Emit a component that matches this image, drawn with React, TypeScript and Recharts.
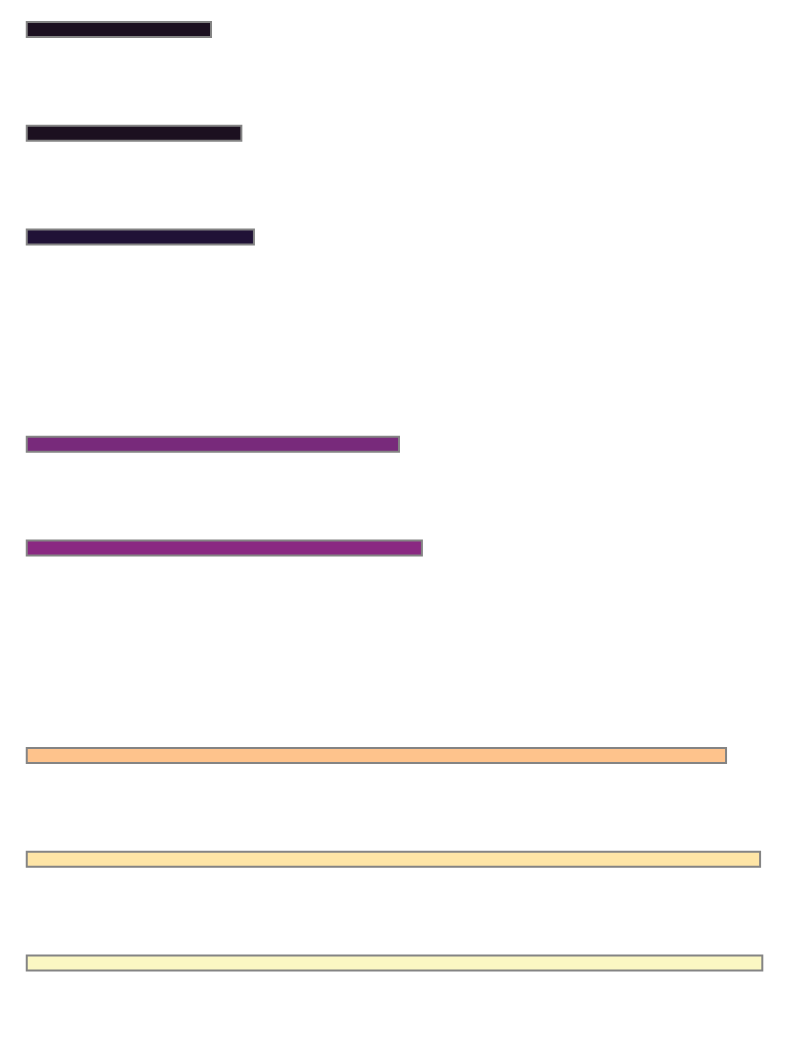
import { BarChart, Bar, XAxis, YAxis, Cell } from "recharts";

const categories = ["c1", "c2", "c3", "c4", "c5", "c6", "c7", "c8", "c9", "c10"];
const values: (number | null)[] = [0.249, 0.29, 0.307, null, 0.503, 0.534, null, 0.945, 0.991, 0.994];
const colors = [
  "#1c1020",
  "#1c1020",
  "#201236",
  "#ffffff",
  "#782a7b",
  "#8a2982",
  "#ffffff",
  "#fec38c",
  "#fee5a6",
  "#fbf7c3",
];

const data = categories.map((name, i) => ({ name, value: values[i] }));

export default function App() {
  return (
    <div style={{ position: "relative", top: -30.36, width: 784 }}>
      <BarChart
        width={784}
        height={1037.2}
        data={data}
        layout="vertical"
        barSize={15}
        margin={{ top: 0, right: 25.25, left: 18.75, bottom: 0 }}
      >
        <XAxis type="number" domain={[0, 1]} hide />
        <YAxis type="category" dataKey="name" hide />
        <Bar dataKey="value" stroke="#848484" strokeWidth={2} isAnimationActive={false}>
          {data.map((d, i) => (
            <Cell key={d.name} fill={colors[i]} />
          ))}
        </Bar>
      </BarChart>
    </div>
  );
}
